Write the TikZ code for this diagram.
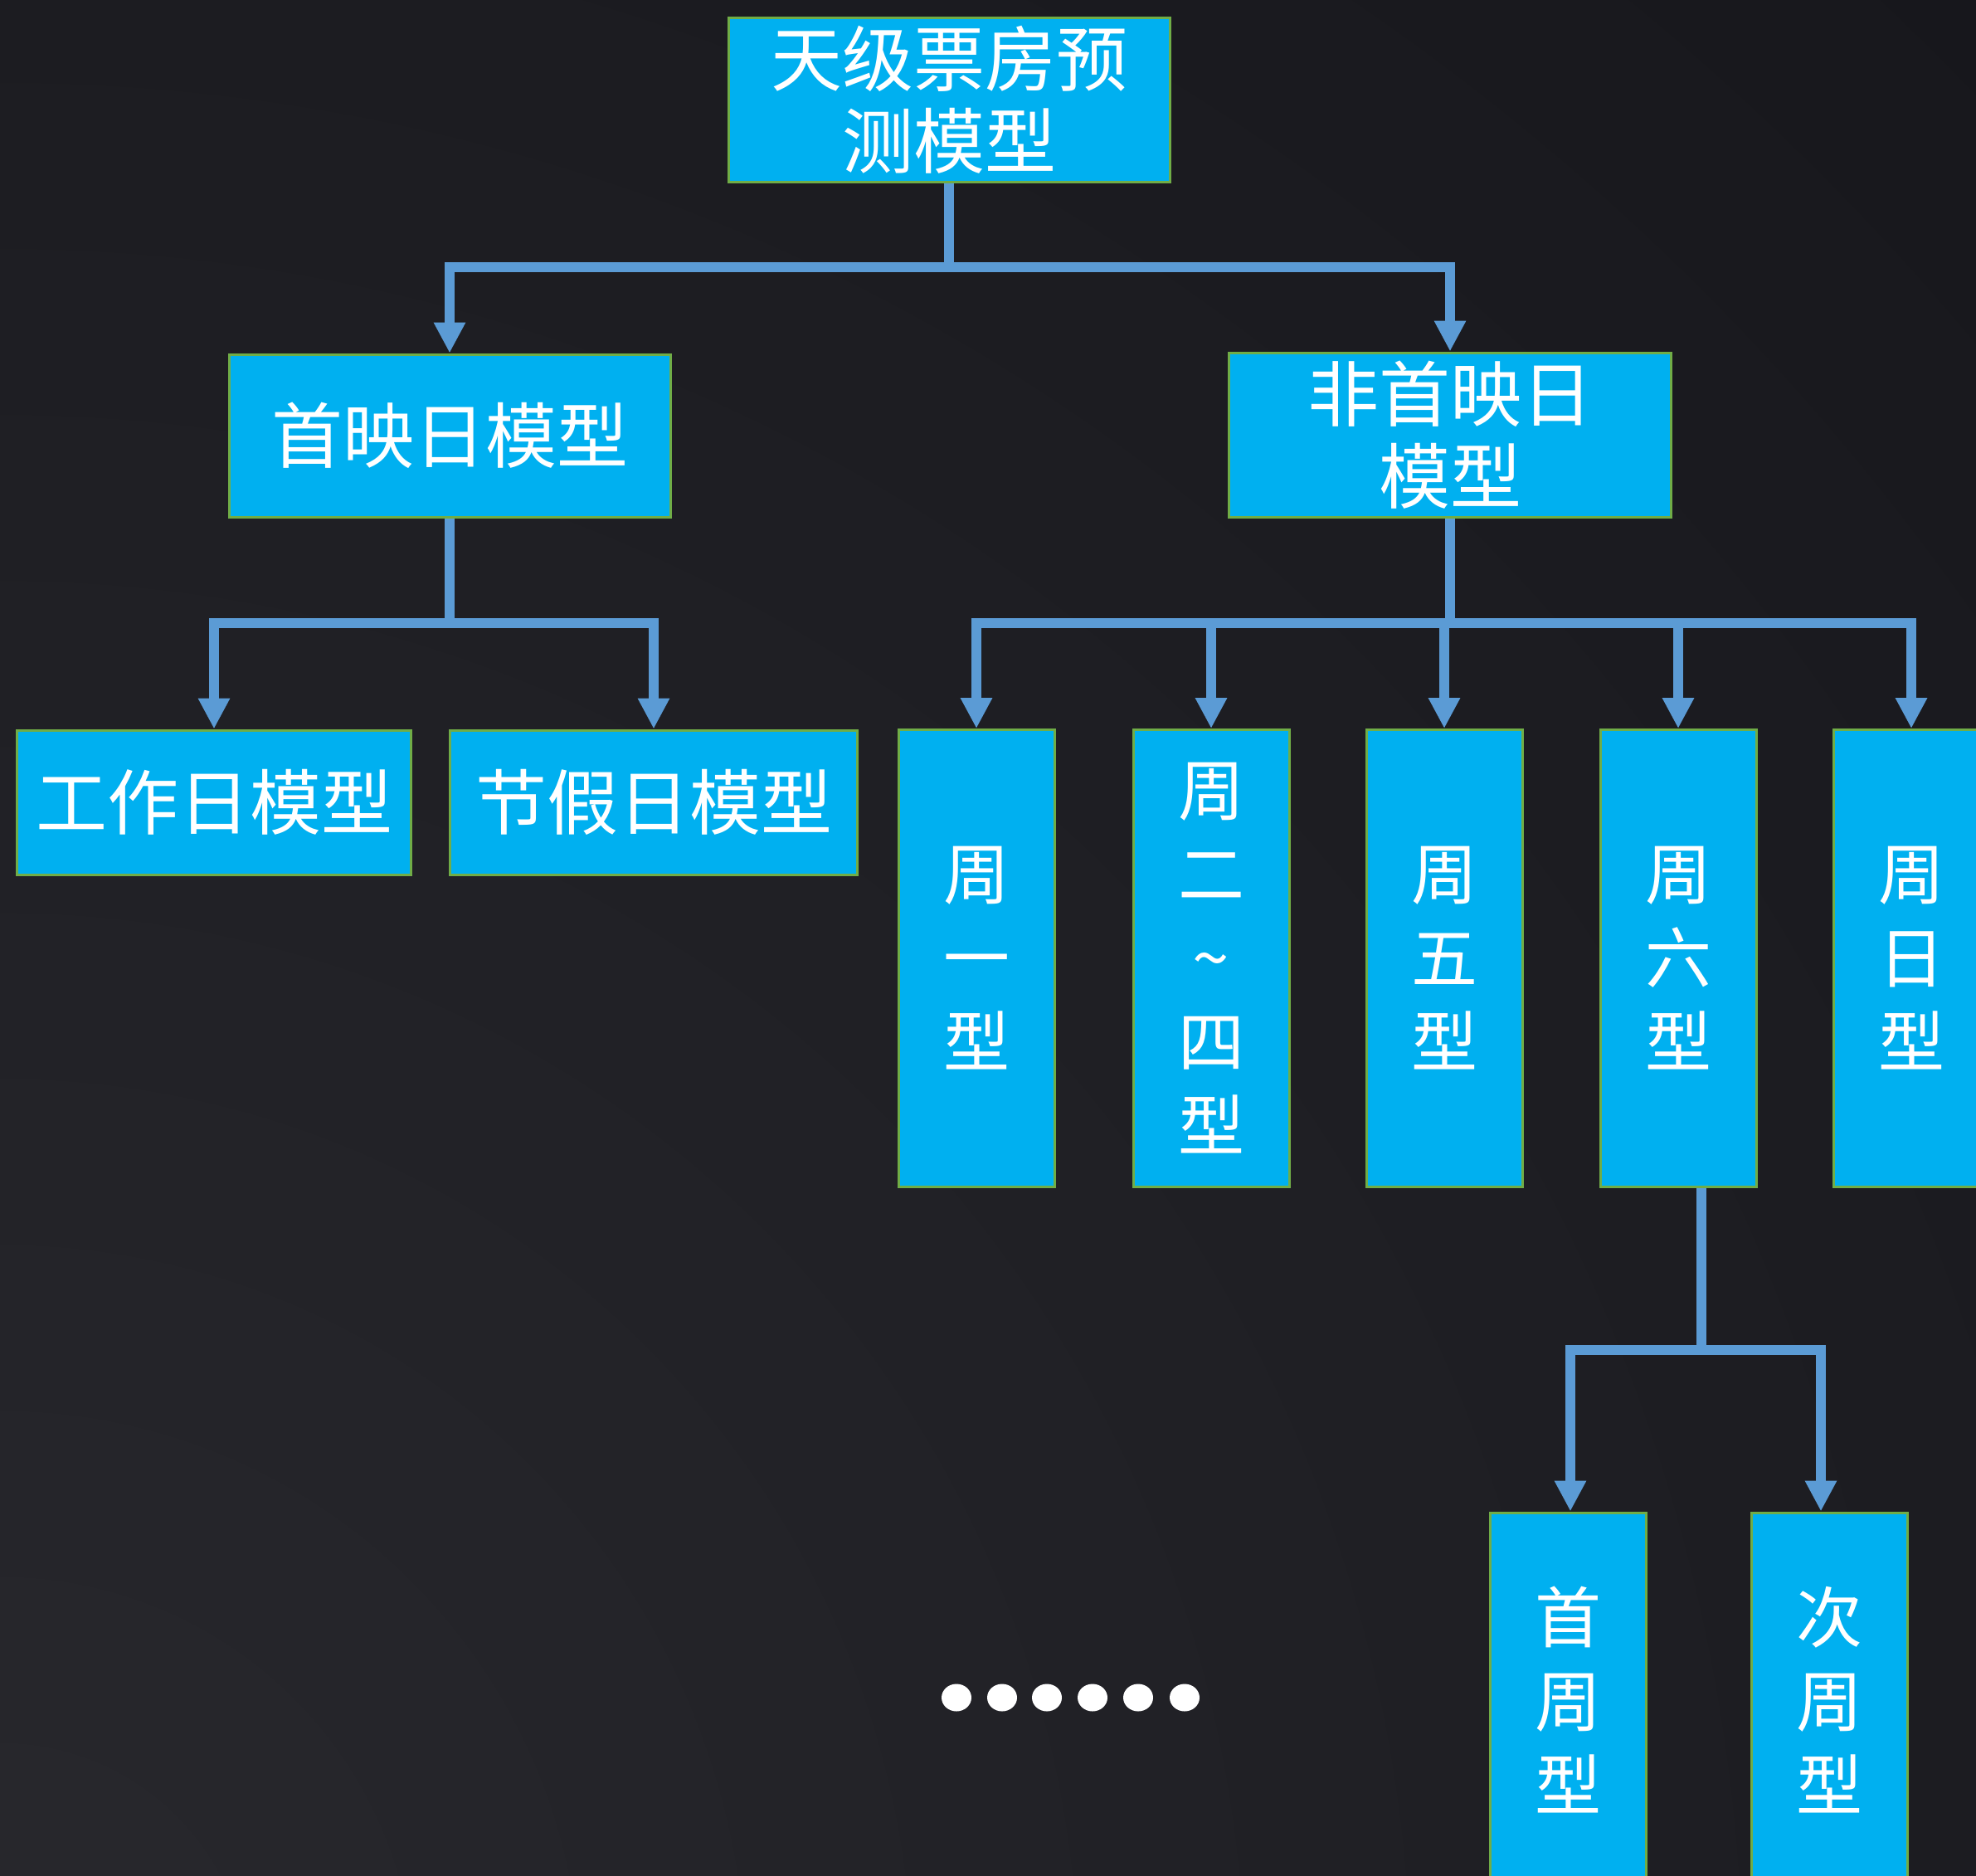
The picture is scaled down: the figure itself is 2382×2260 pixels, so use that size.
\documentclass[tikz,border=0pt]{standalone}
\usepackage{fontspec}
\newfontfamily\cjk{Noto Sans CJK SC}
\usetikzlibrary{arrows.meta}
\definecolor{bgdark}{RGB}{23,23,28}
\definecolor{bglight}{RGB}{40,40,45}
\definecolor{boxfill}{RGB}{0,176,240}
\definecolor{boxline}{RGB}{112,173,71}
\definecolor{connc}{RGB}{91,155,213}
\begin{document}
\begin{tikzpicture}[x=1pt,y=-1pt,
  box/.style={draw=boxline, line width=3pt, fill=boxfill, inner sep=0pt, text=white, align=center},
  hbox/.style={box, font=\cjk\fontsize{86pt}{99pt}\selectfont},
  vbox/.style={box, minimum width=188pt, minimum height=551pt, font=\cjk\fontsize{80pt}{101pt}\selectfont},
  link/.style={draw=connc, line width=12pt},
  arr/.style={link, -{Triangle[length=37pt,width=36pt]}},
  arrtwo/.style={link, {Triangle[length=37pt,width=36pt]}-{Triangle[length=37pt,width=36pt]}},
]
\useasboundingbox (0,0) rectangle (2382,2260);
\fill[bgdark] (0,0) rectangle (2382,2260);
\begin{scope}
\clip (0,0) rectangle (2382,2260);
\shade[inner color=bglight, outer color=bgdark] (0,2400) circle[radius=3400];
\end{scope}

\node[hbox, minimum width=532pt, minimum height=198pt] (root) at (1144,120) {天级票房预\\测模型};
\node[hbox, minimum width=532pt, minimum height=196pt] (first) at (542,525) {首映日模型};
\node[hbox, minimum width=533pt, minimum height=198pt] (nonfirst) at (1748,524) {非首映日\\模型};
\node[hbox, minimum width=475pt, minimum height=174pt] (work) at (258,967) {工作日模型};
\node[hbox, minimum width=491pt, minimum height=174pt] (holi) at (788,967) {节假日模型};

\node[vbox] (mon) at (1177,1155) {周\\一\\型};
\node[vbox] (tue) at (1460,1155) {周\\二\\\textasciitilde\\四\\型};
\node[vbox] (fri) at (1741,1155) {周\\五\\型};
\node[vbox] (sat) at (2023,1155) {周\\六\\型};
\node[vbox] (sun) at (2304,1155) {周\\日\\型};

\node[vbox, minimum height=452pt] (wk1) at (1890,2049) {首\\周\\型};
\node[vbox, minimum height=452pt] (wk2) at (2205,2049) {次\\周\\型};

\coordinate (j1) at (1144,322);
\coordinate (j2) at (542,751);
\coordinate (j3) at (1748,751);
\coordinate (j4) at (2051,1627);
\coordinate (a1) at (1893,0);
\coordinate (a2) at (2195,0);

\draw[link] (root.south) -- (j1);
\draw[arrtwo] (first.north) |- (j1) -| (nonfirst.north);

\draw[link] (first.south) -- (j2);
\draw[arrtwo] (work.north) |- (j2) -| (holi.north);

\draw[link] (nonfirst.south) -- (j3);
\foreach \n in {mon,tue,fri,sat,sun}{
  \draw[arr] (j3) -| (\n.north);
}

\draw[link] (sat.south -| j4) -- (j4);
\draw[arrtwo] (wk1.north -| a1) |- (j4) -| (wk2.north -| a2);

\foreach \x in {1153,1208,1262,1317,1372,1428}{
  \fill[white] (\x,2046) ellipse [x radius=18pt, y radius=16.5pt];
}
\end{tikzpicture}
\end{document}
